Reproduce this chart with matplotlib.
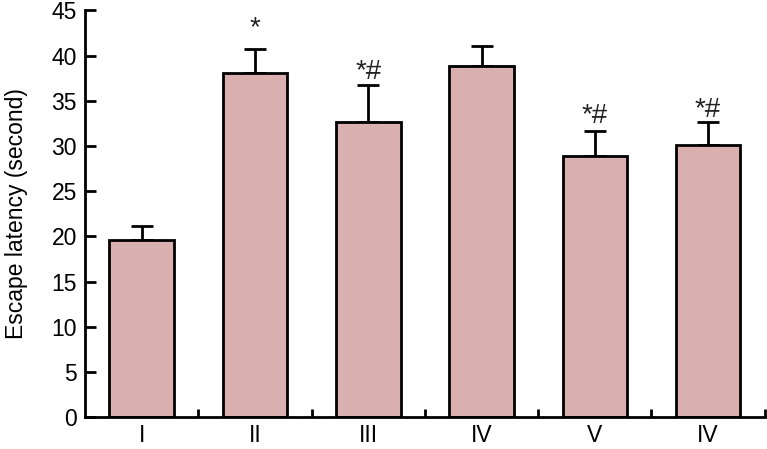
import numpy as np
import matplotlib.pyplot as plt

plt.rcParams['font.family'] = ['Liberation Sans', 'DejaVu Sans']

groups = ['I', 'II', 'III', 'IV', 'V', 'IV']
latency = [19.6, 38.1, 32.6, 38.8, 28.9, 30.1]
sem = [1.5, 2.6, 4.1, 2.2, 2.8, 2.5]
marks = ['', '*', '*#', '', '*#', '*#']
mark_y = [0, 43.0, 38.2, 0, 33.3, 34.0]

x = np.arange(len(groups))

fig = plt.figure(figsize=(7.67, 4.49), dpi=100)
ax = fig.add_axes([0.111, 0.071, 0.886, 0.906])

ax.bar(x, latency, width=0.57, color='#d9afb0', edgecolor='black', linewidth=2, zorder=2)
ax.errorbar(x, latency, yerr=[np.zeros(len(sem)), sem], fmt='none', ecolor='black',
            elinewidth=2, capsize=8, capthick=2, zorder=1)

for xi, m, my in zip(x, marks, mark_y):
    if m:
        ax.text(xi, my, m, ha='center', va='center', fontsize=20, color='#222222')

ax.set_xlim(-0.5, 5.5)
ax.set_ylim(0, 45)
ax.set_yticks(np.arange(0, 46, 5))
ax.set_xticks(x)
ax.set_xticklabels(groups)
ax.set_xticks(np.arange(0.5, 6, 1), minor=True)

ax.tick_params(axis='x', which='major', length=0, pad=5, labelsize=16.5)
ax.tick_params(axis='x', which='minor', direction='in', length=6, width=2)
ax.tick_params(axis='y', direction='in', length=8, width=2, labelsize=16.5, pad=6)

for s in ['top', 'right']:
    ax.spines[s].set_visible(False)
for s in ['left', 'bottom']:
    ax.spines[s].set_linewidth(2)

ax.set_ylabel('Escape latency (second)', fontsize=16.5, labelpad=17)

fig.savefig('out.png', dpi=100)
